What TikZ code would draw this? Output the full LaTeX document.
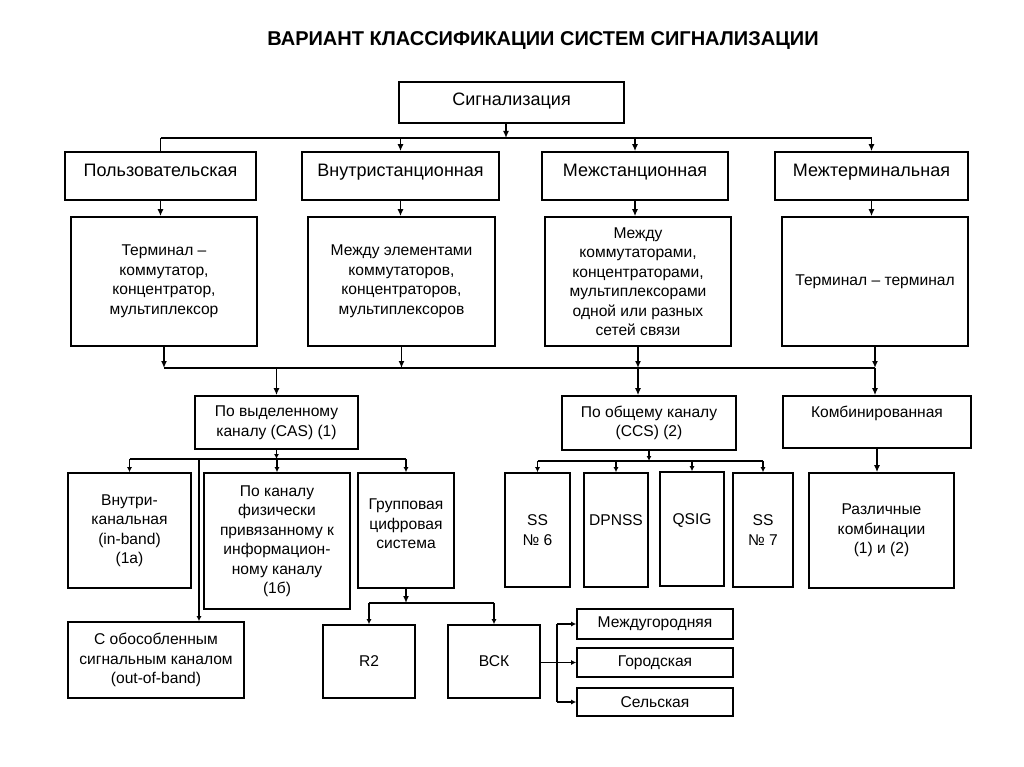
\documentclass[tikz,border=0pt]{standalone}
\usepackage{fontspec}
\setmainfont{Liberation Sans}
\usetikzlibrary{arrows.meta,calc}
\tikzset{
  box/.style={draw, line width=1.6pt, align=center, inner sep=2pt, fill=white,
    font=\fontsize{15.6}{19.5}\selectfont},
  bigbox/.style={box, font=\fontsize{18}{21}\selectfont, text height=8pt, text depth=7pt},
  con/.style={line width=1.5pt},
  arr/.style={con, -{Latex[length=7pt,width=6pt]}},
  sarr/.style={con, -{Latex[length=5pt,width=5pt]}},
}
\begin{document}
\begin{tikzpicture}[x=1pt,y=-1pt]
\useasboundingbox[fill=white] (0,0) rectangle (1024,767);
\node[font=\bfseries\fontsize{20}{22}\selectfont] (title) at (543,41) {ВАРИАНТ КЛАССИФИКАЦИИ СИСТЕМ СИГНАЛИЗАЦИИ};

\node[bigbox, text height=10pt, text depth=3.6pt, minimum width=225pt, minimum height=41pt] (sig) at (511.5,102.5) {Сигнализация};

% level 2
\node[bigbox, minimum width=191pt, minimum height=48pt] (p1) at (160.5,176) {Пользовательская};
\node[bigbox, minimum width=197pt, minimum height=48pt] (p2) at (400.5,176) {Внутристанционная};
\node[bigbox, minimum width=186pt, minimum height=48pt] (p3) at (635,176) {Межстанционная};
\node[bigbox, minimum width=193pt, minimum height=48pt] (p4) at (871.5,176) {Межтерминальная};

% level 3
\node[box, minimum width=186pt, minimum height=129pt] (q1) at (164,281.5) {Терминал –\\коммутатор,\\концентратор,\\мультиплексор};
\node[box, minimum width=187pt, minimum height=129pt] (q2) at (401.5,281.5) {Между элементами\\коммутаторов,\\концентраторов,\\мультиплексоров};
\node[box, minimum width=186pt, minimum height=129pt] (q3) at (638,281.5) {Между\\коммутаторами,\\концентраторами,\\мультиплексорами\\одной или разных\\сетей связи};
\node[box, minimum width=186pt, minimum height=129pt] (q4) at (875,281.5) {Терминал – терминал};

% level 4
\node[box, minimum width=163pt, minimum height=53pt] (r1) at (276.5,422.5) {По выделенному\\каналу (CAS) (1)};
\node[box, minimum width=174pt, minimum height=54pt] (r2) at (649,423) {По общему каналу\\(CCS) (2)};
\node[box, minimum width=188pt, minimum height=52pt] (r3) at (877,422) {Комбинированная\\~};

% level 5
\node[box, minimum width=123pt, minimum height=115pt] (s1) at (129.5,530.5) {Внутри-\\канальная\\(in-band)\\(1а)};
\node[box, minimum width=146pt, minimum height=136pt] (s2) at (277,541) {По каналу\\физически\\привязанному к\\информацион-\\ному каналу\\(1б)};
\node[box, minimum width=96pt, minimum height=115pt] (s3) at (406,530.5) {Групповая\\цифровая\\система\\[-6pt]~};

\node[box, minimum width=65pt, minimum height=114pt] (t1) at (537.5,530) {SS\\№ 6};
\node[box, minimum width=64pt, minimum height=114pt] (t2) at (616,530) {DPNSS\\~};
\node[box, minimum width=64pt, minimum height=114pt] (t3) at (692,529) {QSIG\\~};
\node[box, minimum width=60pt, minimum height=114pt] (t4) at (763,530) {SS\\№ 7};

\node[box, minimum width=145pt, minimum height=115pt] (u) at (881.5,530.5) {Различные\\комбинации\\(1) и (2)};

% bottom
\node[box, minimum width=176pt, minimum height=76pt] (v) at (156,660) {С обособленным\\сигнальным каналом\\(out-of-band)};
\node[box, minimum width=92pt, minimum height=73pt] (w1) at (369,661.5) {R2};
\node[box, minimum width=92pt, minimum height=73pt] (w2) at (494,661.5) {ВСК};
\node[box, minimum width=156pt, minimum height=30pt] (x1) at (655,624) {Междугородняя};
\node[box, minimum width=156pt, minimum height=29pt] (x2) at (655,662.5) {Городская};
\node[box, minimum width=156pt, minimum height=28pt] (x3) at (655,702) {Сельская};

% connectors: top
\coordinate (jt) at (506,138);
\draw[arr] (sig.south -| jt) -- (jt);
\draw[con] (p1.north |- jt) -- (p4.north |- jt);
\draw[con] (p1.north |- jt) -- (p1.north);
\draw[arr] (p2.north |- jt) -- (p2.north);
\draw[arr] (p3.north |- jt) -- (p3.north);
\draw[arr] (p4.north |- jt) -- (p4.north);

% level 2 -> 3
\draw[arr] (p1.south) -- (p1.south |- q1.north);
\draw[arr] (p2.south) -- (p2.south |- q2.north);
\draw[arr] (p3.south) -- (p3.south |- q3.north);
\draw[arr] (p4.south) -- (p4.south |- q4.north);

% level 3 -> junction -> level 4
\coordinate (jm) at (0,368);
\draw[arr] (q1.south) -- (q1.south |- jm);
\draw[arr] (q2.south) -- (q2.south |- jm);
\draw[arr] (q3.south) -- (q3.south |- jm);
\draw[arr] (q4.south) -- (q4.south |- jm);
\draw[con] (q1.south |- jm) -- (q4.south |- jm);
\draw[arr] (r1.north |- jm) -- (r1.north);
\draw[arr] (q3.south |- jm) -- (q3.south |- r2.north);
\draw[arr] (q4.south |- jm) -- (q4.south |- r3.north);

% CAS children
\coordinate (j5) at (0,459);
\coordinate (jv5) at (199,459);
\draw[sarr] (r1.south) -- (r1.south |- j5);
\draw[con] (s1.north |- j5) -- (s3.north |- j5);
\draw[sarr] (s1.north |- j5) -- (s1.north);
\draw[sarr] (s2.north |- j5) -- (s2.north);
\draw[sarr] (s3.north |- j5) -- (s3.north);
\draw[sarr] (jv5) -- (jv5 |- v.north);

% CCS children
\coordinate (j6) at (0,461);
\draw[sarr] (r2.south) -- (r2.south |- j6);
\draw[con] (t1.north |- j6) -- (t4.north |- j6);
\draw[sarr] (t1.north |- j6) -- (t1.north);
\draw[sarr] (t2.north |- j6) -- (t2.north);
\draw[sarr] (t3.north |- j6) -- (t3.north);
\draw[sarr] (t4.north |- j6) -- (t4.north);

% combined
\draw[arr] (r3.south) -- (r3.south |- u.north);

% group digital system
\coordinate (j7) at (0,603);
\draw[arr] (s3.south) -- (s3.south |- j7);
\draw[con] (w1.north |- j7) -- (w2.north |- j7);
\draw[sarr] (w1.north |- j7) -- (w1.north);
\draw[sarr] (w2.north |- j7) -- (w2.north);

% VSK outputs
\coordinate (jb) at (557,0);
\draw[sarr] (w2.east |- x2.west) -- (x2.west);
\draw[con] (jb |- x1.west) -- (jb |- x3.west);
\draw[sarr] (jb |- x1.west) -- (x1.west);
\draw[sarr] (jb |- x3.west) -- (x3.west);
\end{tikzpicture}
\end{document}
